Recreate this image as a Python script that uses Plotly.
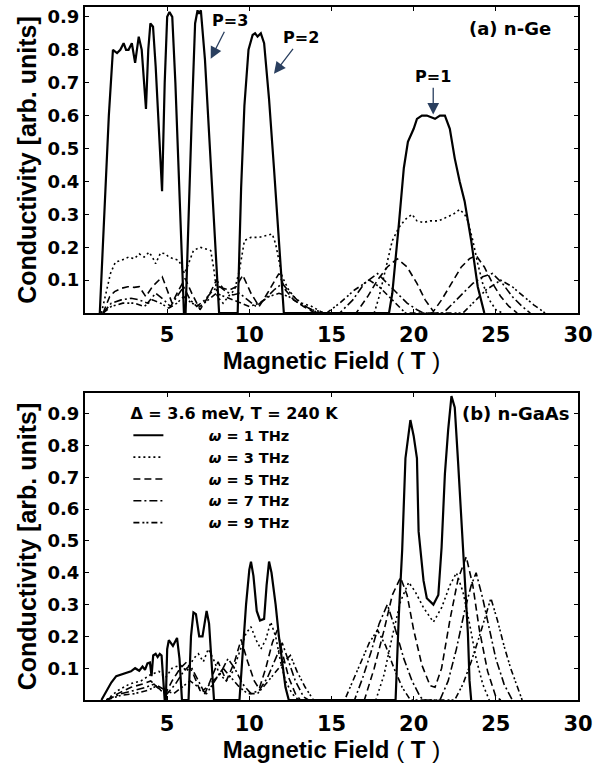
import plotly.graph_objects as go

# ---------------- (a) n-Ge ----------------
ge_x1 = [0.9, 1.2, 1.45, 1.7, 1.95, 2.15, 2.35, 2.5, 2.65, 2.85, 3.05, 3.27, 3.45, 3.71, 3.85, 3.98, 4.14, 4.3, 4.5, 4.69, 4.85, 5.0, 5.14, 5.31, 5.5, 5.75, 6.02,
         6.12, 6.3, 6.5, 6.7, 6.85, 6.93, 7.05, 7.3, 7.6, 7.9, 8.16,
         9.29, 9.5, 9.7, 9.95, 10.2, 10.35, 10.5, 10.7, 10.9, 11.2, 11.5, 11.8, 12.1,
         18.5, 18.7, 19.1, 19.4, 19.65, 20.0, 20.2, 20.5, 20.8, 21.0, 21.3, 21.6, 21.9, 22.2, 22.5, 22.8, 23.1, 23.5, 23.9, 24.3]
ge_y1 = [0.0, 0.33, 0.60, 0.80, 0.79, 0.80, 0.82, 0.80, 0.80, 0.82, 0.76, 0.84, 0.80, 0.62, 0.80, 0.88, 0.87, 0.75, 0.55, 0.37, 0.70, 0.90, 0.915, 0.90, 0.70, 0.38, 0.0,
         0.0, 0.30, 0.60, 0.88, 0.92, 0.91, 0.92, 0.77, 0.50, 0.23, 0.0,
         0.0, 0.38, 0.63, 0.80, 0.845, 0.85, 0.84, 0.85, 0.82, 0.65, 0.44, 0.22, 0.0,
         0.0, 0.06, 0.27, 0.44, 0.52, 0.56, 0.59, 0.60, 0.60, 0.595, 0.59, 0.60, 0.60, 0.56, 0.47, 0.40, 0.34, 0.22, 0.08, 0.0]

ge_x3 = [1.0, 1.3, 1.55, 1.85, 2.2, 2.65, 3.0, 3.3, 3.6, 3.9, 4.1, 4.3, 4.6, 4.9, 5.1, 5.4, 5.7, 5.9, 6.05, 6.3, 6.6, 7.0, 7.4, 7.65, 7.85, 8.05, 8.4, 8.8, 9.1, 9.4, 9.7,
         10.1, 10.6, 11.0, 11.4, 11.6, 11.8, 12.0, 12.4, 12.8, 13.2, 13.8, 14.5,
         17.6, 17.9, 18.3, 18.7, 19.1, 19.5, 19.9, 20.2, 20.6, 21.0, 21.5, 22.0, 22.4, 22.8, 23.1, 23.3, 23.6, 23.9, 24.2, 24.6, 25.0, 25.4]
ge_y3 = [0.0, 0.07, 0.12, 0.155, 0.16, 0.17, 0.165, 0.18, 0.17, 0.185, 0.17, 0.15, 0.183, 0.18, 0.17, 0.165, 0.16, 0.14, 0.12, 0.15, 0.19, 0.20, 0.195, 0.19, 0.13, 0.05, 0.03, 0.055, 0.07, 0.13, 0.22,
         0.23, 0.23, 0.235, 0.24, 0.21, 0.16, 0.11, 0.07, 0.045, 0.03, 0.02, 0.0,
         0.0, 0.05, 0.14, 0.22, 0.26, 0.285, 0.30, 0.28, 0.275, 0.28, 0.28, 0.29, 0.30, 0.315, 0.30, 0.28, 0.22, 0.15, 0.09, 0.04, 0.01, 0.0]

ge_x5 = [1.1, 1.5, 1.8, 2.2, 2.6, 3.0, 3.3, 3.7, 4.1, 4.7, 5.0, 5.3, 5.7, 6.1, 6.5, 7.0, 7.5, 8.0, 8.4, 8.8, 9.2, 9.6, 10.1, 10.6, 11.1, 11.8, 12.2, 12.7, 13.3, 14.0,
         16.5, 17.2, 17.8, 18.4, 19.0, 19.6, 20.2, 20.7, 21.2, 21.7, 22.3, 22.9, 23.4, 23.8, 24.3, 24.8, 25.3, 25.8, 26.3]
ge_y5 = [0.0, 0.05, 0.065, 0.075, 0.08, 0.078, 0.08, 0.05, 0.08, 0.11, 0.07, 0.03, 0.07, 0.105, 0.06, 0.01, 0.05, 0.10, 0.075, 0.07, 0.08, 0.115, 0.06, 0.02, 0.06, 0.12, 0.07, 0.04, 0.02, 0.0,
         0.0, 0.05, 0.10, 0.14, 0.165, 0.14, 0.09, 0.04, 0.005, 0.04, 0.09, 0.14, 0.165, 0.175, 0.14, 0.09, 0.05, 0.02, 0.0]

ge_x7 = [1.1, 1.6, 2.2, 2.8, 3.3, 3.8, 4.3, 4.8, 5.2, 5.6, 6.0, 6.4, 6.8, 7.3, 7.8, 8.2, 8.6, 9.0, 9.4, 9.9, 10.4, 10.9, 11.5, 12.0, 12.5, 13.0, 13.6, 14.2,
         15.5, 16.3, 17.0, 17.8, 18.4, 19.0, 19.6, 20.2, 20.6, 21.8, 22.4, 23.0, 23.6, 24.2, 24.8, 25.4, 26.0, 26.6, 27.1]
ge_y7 = [0.0, 0.03, 0.04, 0.045, 0.04, 0.03, 0.06, 0.04, 0.02, 0.05, 0.08, 0.04, 0.02, 0.04, 0.07, 0.08, 0.065, 0.055, 0.06, 0.04, 0.02, 0.04, 0.07, 0.09, 0.06, 0.035, 0.015, 0.0,
         0.0, 0.04, 0.09, 0.12, 0.09, 0.06, 0.03, 0.01, 0.0, 0.0, 0.03, 0.06, 0.09, 0.11, 0.12, 0.09, 0.05, 0.02, 0.0]

ge_x9 = [1.1, 1.6, 2.3, 3.0, 3.6, 4.1, 4.6, 5.1, 5.6, 6.0, 6.5, 7.0, 7.5, 8.0, 8.5, 9.0, 9.5, 10.0, 10.6, 11.2, 11.8, 12.4, 13.0, 13.8, 14.7,
         15.5, 16.4, 17.3, 17.9, 18.5, 19.0, 19.5, 23.0, 23.6, 24.4, 25.3, 26.0, 26.7, 27.3, 28.0]
ge_y9 = [0.0, 0.02, 0.03, 0.03, 0.02, 0.04, 0.03, 0.015, 0.03, 0.05, 0.03, 0.02, 0.04, 0.06, 0.05, 0.04, 0.03, 0.02, 0.03, 0.05, 0.06, 0.05, 0.03, 0.01, 0.0,
         0.03, 0.07, 0.10, 0.08, 0.05, 0.025, 0.0, 0.0, 0.03, 0.07, 0.10, 0.08, 0.05, 0.025, 0.0]

# ---------------- (b) n-GaAs ----------------
gaas_x1 = [1.0, 1.3, 1.6, 1.9, 2.2, 2.5, 2.8, 3.05, 3.3, 3.5, 3.65, 3.8, 3.95, 4.05, 4.15, 4.3, 4.42, 4.55, 4.66, 4.74, 4.85,
           4.92, 5.0, 5.1, 5.35, 5.6, 5.75, 5.9,
           6.3, 6.45, 6.6, 6.75, 6.95, 7.15, 7.4, 7.55, 7.7, 7.85,
           9.4, 9.6, 9.8, 10.0, 10.1, 10.25, 10.45, 10.65, 10.9, 11.05, 11.2, 11.35, 11.6, 11.8, 12.0, 12.2, 12.4,
           18.9, 19.1, 19.3, 19.5, 19.7, 19.8, 20.0, 20.2, 20.3, 20.6, 20.8, 21.2, 21.5, 21.7, 21.9, 22.1, 22.3, 22.5, 22.7, 22.9, 23.1, 23.3, 23.4, 23.5]
gaas_y1 = [0.0, 0.03, 0.055, 0.075, 0.08, 0.085, 0.09, 0.10, 0.092, 0.105, 0.095, 0.115, 0.118, 0.075, 0.14, 0.145, 0.135, 0.145, 0.14, 0.08, 0.0,
           0.0, 0.16, 0.188, 0.17, 0.195, 0.13, 0.0,
           0.0, 0.20, 0.275, 0.27, 0.20, 0.20, 0.28, 0.24, 0.12, 0.0,
           0.0, 0.15, 0.30, 0.41, 0.435, 0.39, 0.28, 0.25, 0.255, 0.36, 0.435, 0.40, 0.30, 0.20, 0.11, 0.04, 0.0,
           0.0, 0.27, 0.47, 0.76, 0.85, 0.88, 0.83, 0.76, 0.53, 0.375, 0.32, 0.30, 0.33, 0.48, 0.71, 0.85, 0.955, 0.92, 0.75, 0.56, 0.39, 0.21, 0.06, 0.0]

gaas_x3 = [1.3, 2.0, 2.7, 3.4, 4.0, 4.5, 4.9, 5.3, 5.8, 6.2, 6.6, 6.9, 7.2, 7.5, 7.8, 8.2, 8.6, 9.0, 9.4, 9.8, 10.1, 10.4, 10.7, 11.0, 11.3, 11.6, 11.9, 12.2, 12.6, 13.0,
           17.7, 18.2, 18.7, 19.2, 19.7, 20.1, 20.6, 21.2, 21.7, 22.2, 22.6, 23.0, 23.4, 23.8, 24.2, 24.6]
gaas_y3 = [0.0, 0.03, 0.05, 0.06, 0.08, 0.09, 0.07, 0.10, 0.11, 0.09, 0.13, 0.145, 0.12, 0.16, 0.13, 0.08, 0.06, 0.09, 0.15, 0.21, 0.23, 0.19, 0.16, 0.19, 0.245, 0.20, 0.12, 0.06, 0.02, 0.0,
           0.0, 0.08, 0.20, 0.31, 0.37, 0.34, 0.29, 0.245, 0.29, 0.36, 0.40, 0.34, 0.24, 0.13, 0.05, 0.0]

gaas_x5 = [1.3, 2.0, 2.8, 3.5, 4.0, 4.4, 4.9, 5.3, 5.8, 6.2, 6.6, 7.0, 7.3, 7.7, 8.1, 8.6, 9.1, 9.5, 9.9, 10.3, 10.6, 11.0, 11.4, 11.7, 12.0, 12.4, 12.8, 13.1,
           17.0, 17.6, 18.2, 18.7, 19.2, 19.6, 20.0, 20.5, 21.0, 21.3, 21.7, 22.2, 22.7, 23.2, 23.6, 24.0, 24.5, 25.0, 25.3]
gaas_y5 = [0.0, 0.02, 0.04, 0.05, 0.06, 0.04, 0.02, 0.06, 0.10, 0.12, 0.08, 0.03, 0.02, 0.07, 0.12, 0.06, 0.12, 0.19, 0.12, 0.06, 0.035, 0.10, 0.18, 0.22, 0.15, 0.07, 0.02, 0.0,
           0.0, 0.10, 0.22, 0.33, 0.385, 0.33, 0.22, 0.11, 0.045, 0.04, 0.10, 0.25, 0.38, 0.45, 0.36, 0.22, 0.09, 0.01, 0.0]

gaas_x7 = [1.3, 2.2, 3.0, 3.7, 4.2, 4.6, 5.0, 5.5, 6.0, 6.4, 6.8, 7.2, 7.6, 8.2, 8.7, 9.1, 9.6, 10.1, 10.6, 11.1, 11.6, 12.0, 12.4, 12.8, 13.3, 13.6,
           16.4, 16.9, 17.4, 17.9, 18.4, 18.9, 19.4, 19.9, 20.4, 20.6, 21.6, 22.1, 22.6, 23.1, 23.5, 23.8, 24.2, 24.6, 25.0, 25.5, 26.0]
gaas_y7 = [0.0, 0.02, 0.03, 0.04, 0.05, 0.03, 0.02, 0.05, 0.09, 0.11, 0.07, 0.03, 0.05, 0.08, 0.13, 0.10, 0.05, 0.02, 0.03, 0.07, 0.13, 0.18, 0.12, 0.06, 0.01, 0.0,
           0.0, 0.07, 0.15, 0.24, 0.30, 0.22, 0.13, 0.06, 0.01, 0.0, 0.0, 0.06, 0.16, 0.28, 0.36, 0.40, 0.32, 0.22, 0.13, 0.05, 0.0]

gaas_x9 = [1.3, 2.2, 3.0, 3.8, 4.4, 4.9, 5.4, 5.9, 6.4, 6.9, 7.4, 7.9, 8.4, 8.9, 9.4, 9.9, 10.5, 11.0, 11.6, 12.1, 12.5, 12.9, 13.4, 13.9,
           15.8, 16.3, 16.8, 17.3, 17.8, 18.3, 18.8, 19.3, 19.8, 22.5, 23.0, 23.5, 24.0, 24.4, 24.7, 25.1, 25.5, 25.9, 26.3, 26.6]
gaas_y9 = [0.0, 0.015, 0.02, 0.03, 0.045, 0.03, 0.02, 0.04, 0.06, 0.04, 0.02, 0.06, 0.10, 0.07, 0.04, 0.02, 0.02, 0.05, 0.09, 0.12, 0.14, 0.09, 0.04, 0.0,
           0.0, 0.06, 0.12, 0.18, 0.22, 0.17, 0.10, 0.04, 0.0, 0.0, 0.05, 0.12, 0.20, 0.27, 0.32, 0.25, 0.17, 0.10, 0.04, 0.0]

freq_labels = ["1", "3", "5", "7", "9"]
x_ticks = [5, 10, 15, 20, 25, 30]
y_ticks = [0.1, 0.2, 0.3, 0.4, 0.5, 0.6, 0.7, 0.8, 0.9]

ge_series = [(ge_x1, ge_y1), (ge_x3, ge_y3), (ge_x5, ge_y5), (ge_x7, ge_y7), (ge_x9, ge_y9)]
gaas_series = [(gaas_x1, gaas_y1), (gaas_x3, gaas_y3), (gaas_x5, gaas_y5), (gaas_x7, gaas_y7), (gaas_x9, gaas_y9)]

dashes = ["solid", "2px,3px", "7px,4px", "8px,3px,2px,3px", "6px,3px,2px,2px,2px,3px"]
widths = [2.2, 1.6, 1.6, 1.6, 1.6]

fig = go.Figure()
NB = "\u00a0"
order = [4, 3, 2, 1, 0]  # draw solid last (on top)
for i in order:
    x, y = ge_series[i]
    fig.add_trace(go.Scatter(x=x, y=y, mode="lines", xaxis="x", yaxis="y",
                             line=dict(color="black", width=widths[i], dash=dashes[i]),
                             showlegend=False, hoverinfo="skip"))
for i in order:
    x, y = gaas_series[i]
    fig.add_trace(go.Scatter(x=x, y=y, mode="lines", xaxis="x2", yaxis="y2",
                             line=dict(color="black", width=widths[i], dash=dashes[i]),
                             name=NB * 8 + "<i>ω</i> = " + freq_labels[i] + " THz",
                             legendrank=i + 1, showlegend=True, hoverinfo="skip"))

tickfont_y = dict(family="DejaVu Sans", size=18, color="black", weight="bold")
tickfont_x = dict(family="DejaVu Sans", size=21, color="black", weight="bold")
title_font = dict(family="Liberation Sans", size=24, color="black", weight="bold")
xtitle = "Magnetic Field <span style='font-weight:normal'>(</span> T <span style='font-weight:normal'>)</span>"

xcommon = dict(range=[0, 30], tickvals=x_ticks, ticktext=[str(v) for v in x_ticks],
               showline=True, linecolor="black", linewidth=2, mirror="ticks",
               ticks="inside", ticklen=4, tickcolor="black", showgrid=False, zeroline=False,
               tickfont=tickfont_x)
ycommon = dict(tickvals=y_ticks, ticktext=[f"{v:.1f}" for v in y_ticks],
               showline=True, linecolor="black", linewidth=2, mirror="ticks",
               ticks="inside", ticklen=4, tickcolor="black", showgrid=False, zeroline=False,
               tickfont=tickfont_y,
               title=dict(text="Conductivity [arb. units]", font=dict(family="Liberation Sans", size=25, color="black", weight="bold"), standoff=4))

fig.update_layout(
    width=608, height=768, paper_bgcolor="white", plot_bgcolor="white",
    margin=dict(l=85, r=30, t=7, b=68, autoexpand=False),
    xaxis=dict(domain=[0, 1], anchor="y", ticklabelstandoff=2,
               title=dict(text=xtitle, font=title_font, standoff=0), **xcommon),
    yaxis=dict(domain=[0.5584, 1.0], anchor="x", range=[0, 0.93], **ycommon),
    xaxis2=dict(domain=[0, 1], anchor="y2", ticklabelstandoff=4,
                title=dict(text=xtitle, font=title_font, standoff=6), **xcommon),
    yaxis2=dict(domain=[0, 0.443], anchor="x2", range=[0, 0.965], **ycommon),
    showlegend=True,
    legend=dict(x=0.088, y=0.435, xanchor="left", yanchor="top", bgcolor="rgba(0,0,0,0)",
                font=dict(family="DejaVu Sans", size=14.5, color="black", weight="bold"),
                title=dict(text="Δ = 3.6 meV, T = 240 K",
                           font=dict(family="DejaVu Sans", size=16, color="black", weight="bold")),
                tracegroupgap=0, itemclick=False),
)

ann_font = dict(family="DejaVu Sans", size=16, color="black", weight="bold")
fig.add_annotation(x=7.65, y=0.773, ax=8.82, ay=0.888, axref="x", ayref="y", xref="x", yref="y",
                   text="P=3", showarrow=True, arrowhead=2, arrowsize=1.8, arrowwidth=1.3, font=ann_font)
fig.add_annotation(x=11.5, y=0.727, ax=13.17, ay=0.836, axref="x", ayref="y", xref="x", yref="y",
                   text="P=2", showarrow=True, arrowhead=2, arrowsize=1.8, arrowwidth=1.3, font=ann_font)
fig.add_annotation(x=21.19, y=0.603, ax=21.19, ay=0.718, axref="x", ayref="y", xref="x", yref="y",
                   text="P=1", showarrow=True, arrowhead=2, arrowsize=1.8, arrowwidth=1.3, font=ann_font)
fig.add_annotation(x=25.84, y=0.864, xref="x", yref="y", text="(a) n-Ge", showarrow=False,
                   font=dict(family="DejaVu Sans", size=18, color="black", weight="bold"))
fig.add_annotation(x=26.2, y=0.90, xref="x2", yref="y2", text="(b) n-GaAs", showarrow=False,
                   font=dict(family="DejaVu Sans", size=18, color="black", weight="bold"))

fig.write_html("out.html")
